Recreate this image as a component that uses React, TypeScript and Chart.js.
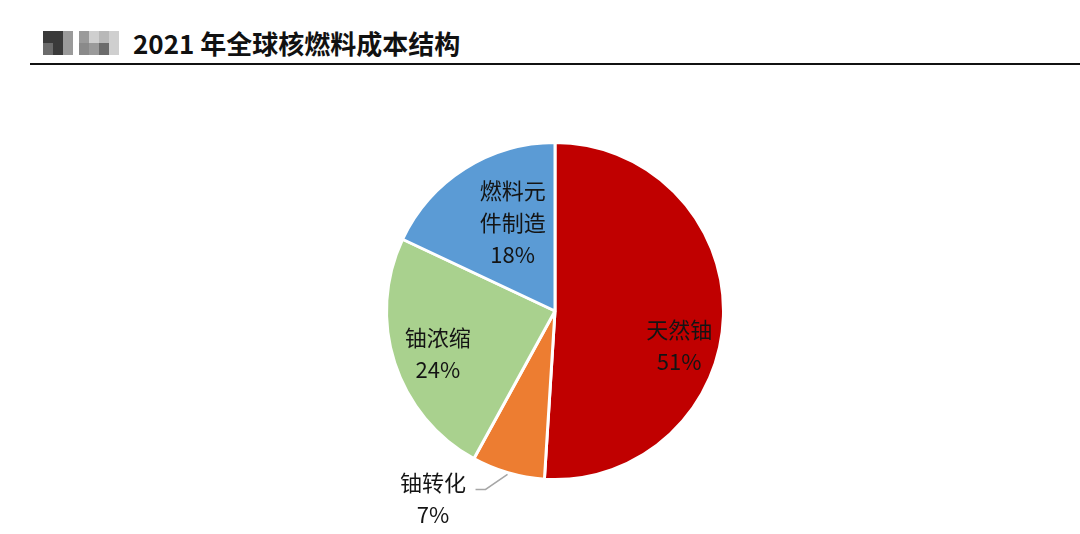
import React, { useRef, useEffect } from "react";
import Chart from "chart.js/auto";

const categories = ["天然铀", "铀转化", "铀浓缩", "燃料元件制造"];
const shares = [51, 7, 24, 18];
const colors = ["#C00000", "#ED7D31", "#A9D18E", "#5B9BD5"];
// label line breaks as in the picture
const labelLines = [["天然铀"], ["铀转化"], ["铀浓缩"], ["燃料元", "件制造"]];
// label placement: angle (deg, 0 = 3 o'clock, clockwise) and radius fraction
const labelPolar = [
    [15.5, 0.765],
    [123, 1.33],
    [160, 0.74],
    [244.5, 0.584],
];

const labelPlugin = {
    id: "sliceLabels",
    afterDatasetsDraw(chart: any) {
        const ctx = chart.ctx;
        const meta = chart.getDatasetMeta(0);
        ctx.save();
        ctx.font = '22px "Noto Sans CJK SC", sans-serif';
        ctx.fillStyle = "#141414";
        ctx.textAlign = "center";
        ctx.textBaseline = "middle";
        meta.data.forEach((arc: any, i: number) => {
            const { x, y, outerRadius, startAngle, endAngle } = arc.getProps(
                ["x", "y", "outerRadius", "startAngle", "endAngle"],
                true
            );
            const a = (labelPolar[i][0] * Math.PI) / 180;
            const r = outerRadius * labelPolar[i][1];
            const cx = x + Math.cos(a) * r;
            const cy = y + Math.sin(a) * r;
            const lines = [...labelLines[i], shares[i] + "%"];
            const lh = 32;
            const top = cy - ((lines.length - 1) * lh) / 2;
            lines.forEach((t, k) => ctx.fillText(t, cx, top + k * lh));

            if (labelPolar[i][1] > 1) {
                // leader line for the outside label
                const mid = (startAngle + endAngle) / 2;
                const sx = x + Math.cos(mid) * outerRadius * 1.01;
                const sy = y + Math.sin(mid) * outerRadius * 1.01;
                ctx.strokeStyle = "#a6a6a6";
                ctx.lineWidth = 1.5;
                ctx.beginPath();
                ctx.moveTo(sx, sy);
                ctx.lineTo(sx - 22, sy + 15);
                ctx.lineTo(sx - 32, sy + 15);
                ctx.stroke();
            }
        });
        ctx.restore();
    },
};

const CostPie: React.FC = () => {
    const chartRef = useRef<HTMLCanvasElement | null>(null);
    const chartInstanceRef = useRef<Chart | null>(null);

    useEffect(() => {
        if (chartRef.current) {
            if (chartInstanceRef.current) {
                chartInstanceRef.current.destroy();
            }
            chartInstanceRef.current = new Chart(chartRef.current, {
                type: "pie",
                data: {
                    labels: categories,
                    datasets: [
                        {
                            data: shares,
                            backgroundColor: colors,
                            borderColor: "#ffffff",
                            borderWidth: 3,
                        },
                    ],
                },
                options: {
                    responsive: false,
                    animation: false,
                    layout: { padding: { left: 30, top: 41, bottom: 53 } },
                    plugins: {
                        legend: { display: false },
                        tooltip: { enabled: false },
                    },
                },
                plugins: [labelPlugin],
            });
        }
        return () => {
            if (chartInstanceRef.current) {
                chartInstanceRef.current.destroy();
                chartInstanceRef.current = null;
            }
        };
    }, []);

    return <canvas ref={chartRef} width={1080} height={434} />;
};

const mosaic = ["#3a3a3a", "#6b6b6b", "#9a9a9a", "#cfcfcf", "#8a8a8a", "#b8b8b8"];

export default function App() {
    return (
        <div
            style={{
                position: "absolute",
                left: 0,
                top: 0,
                width: 1080,
                height: 534,
                background: "#fff",
                overflow: "hidden",
                fontFamily: '"Noto Sans CJK SC", sans-serif',
            }}
        >
            <div style={{ position: "absolute", left: 43, top: 31, display: "flex", gap: 6 }}>
                <div style={{ display: "grid", gridTemplateColumns: "repeat(3, 10px)", gridAutoRows: "12px" }}>
                    {[0, 0, 2, 1, 0, 2].map((c, i) => (
                        <div key={i} style={{ background: mosaic[c] }} />
                    ))}
                </div>
                <div style={{ display: "grid", gridTemplateColumns: "repeat(4, 10px)", gridAutoRows: "12px" }}>
                    {[2, 3, 5, 3, 4, 2, 1, 3].map((c, i) => (
                        <div key={i} style={{ background: mosaic[c] }} />
                    ))}
                </div>
            </div>
            <div
                style={{
                    position: "absolute",
                    left: 133,
                    top: 25,
                    fontSize: 26,
                    fontWeight: 700,
                    color: "#111",
                    lineHeight: "36px",
                    whiteSpace: "nowrap",
                }}
            >
                2021 年全球核燃料成本结构
            </div>
            <div
                style={{
                    position: "absolute",
                    left: 30,
                    top: 63,
                    width: 1050,
                    height: 2,
                    background: "#111",
                }}
            />
            <div style={{ position: "absolute", left: 0, top: 100 }}>
                <CostPie />
            </div>
        </div>
    );
}
